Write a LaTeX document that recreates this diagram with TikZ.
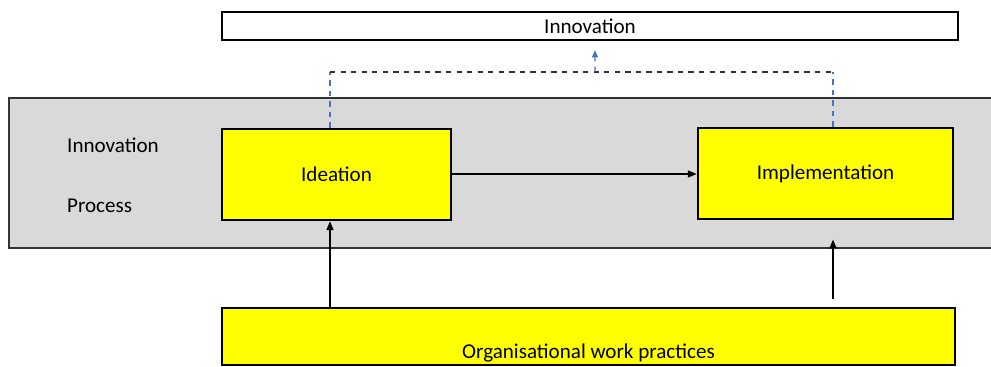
\documentclass[tikz,border=0pt]{standalone}
\usepackage{fontspec}
\setmainfont{Carlito}
\usetikzlibrary{arrows.meta, positioning, calc}

\definecolor{bandgray}{HTML}{D9D9D9}
\definecolor{linkblue}{HTML}{4472C4}
\definecolor{boxyellow}{HTML}{FFFF00}

\tikzset{
  txt/.style={font=\fontsize{12}{14}\selectfont},
  stagenode/.style={rectangle,fill=boxyellow,draw=black,line width=1.5pt,
    minimum height=1.82cm,txt},
  topnode/.style={rectangle,fill=white,draw=black,line width=1.5pt,
    minimum width=14.72cm,minimum height=0.56cm,txt},
  basenode/.style={rectangle,fill=boxyellow,draw=black,line width=0.6pt,
    minimum width=14.66cm,minimum height=1.14cm},
  arr/.style={-{Triangle[length=5pt,width=4pt]},line width=0.6pt,draw=black},
  blink/.style={dashed,line width=0.6pt,draw=linkblue}
}

\begin{document}
\begin{tikzpicture}

  \useasboundingbox (0,0) rectangle (19.82,-7.34);

  % grey band holding the process
  \draw[fill=bandgray,draw=black!80,line width=0.6pt] (0.18,-1.96) rectangle (20.2,-4.96);

  \node[topnode] (innov) at (11.8,-0.52) {Innovation};

  \node[stagenode,minimum width=4.58cm] (idea) at (6.73,-3.49) {Ideation};
  \node[stagenode,minimum width=5.10cm] (impl) at (16.51,-3.47) {Implementation};

  \node[txt,anchor=west] (lbl1) at (1.22,-2.9) {Innovation};
  \node[txt,anchor=west] (lbl2) at (1.22,-4.12) {Process};

  \node[basenode,label={[txt,anchor=south,inner sep=1.5pt]south:Organisational work practices}] (org) at (11.77,-6.73) {};

  \draw[arr] (idea.east |- 0,-3.48) -- (impl.west |- 0,-3.48);

  % feedback to the outcome
  \coordinate (jl) at (6.6,-1.44);
  \coordinate (jr) at (16.66,-1.44);
  \coordinate (jm) at (11.9,-1.44);
  \draw[blink] (idea.north -| jl) -- (jl);
  \draw[blink] (impl.north -| jr) -- (jr);
  \draw[dashed,line width=0.6pt,draw=black!80] (jl) -- (jr);
  \draw[blink,-{Triangle[length=4pt,width=3.5pt]}] (jm) -- ($(innov.south)+(0.1,-0.18)$);

  % practices feeding the two stages
  \draw[arr] (org.north -| jl) -- (idea.south -| jl);
  \draw[arr,shorten <=5pt,shorten >=11pt] (org.north -| jr) -- (impl.south -| jr);

\end{tikzpicture}
\end{document}
